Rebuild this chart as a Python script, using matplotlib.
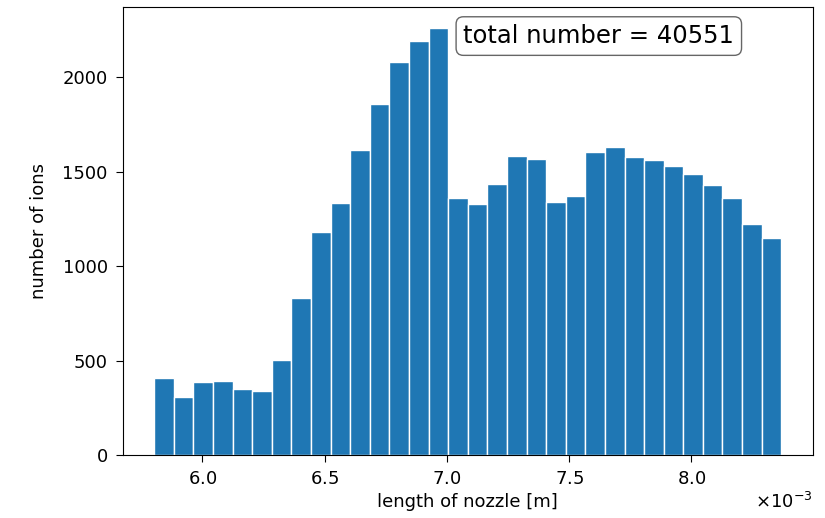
import numpy as np
import matplotlib
matplotlib.use('Agg')
import matplotlib.pyplot as plt

# bin edges of the histogram (meters)
x_start = 5.804e-3
x_end = 8.367e-3
# counts per bin
counts = [408, 307, 387, 392, 350, 337, 502, 829, 1178, 1336,
          1615, 1857, 2078, 2190, 2258, 1362, 1327, 1435, 1583, 1566,
          1341, 1370, 1601, 1632, 1577, 1560, 1527, 1488, 1430, 1360,
          1225, 1150]
total_label = 'total number = 40551'

edges = np.linspace(x_start, x_end, len(counts) + 1)
widths = np.diff(edges)

plt.rcParams['font.size'] = 13
plt.rcParams['xtick.major.size'] = 5
plt.rcParams['ytick.major.size'] = 5
plt.rcParams['xtick.major.pad'] = 5.5
plt.rcParams['ytick.major.pad'] = 6
fig = plt.figure(figsize=(8.25, 5.18), dpi=100)
ax = fig.add_axes([0.149, 0.1216, 0.836, 0.865])

ax.bar(edges[:-1], counts, width=widths, align='edge',
       color='#1f77b4', edgecolor='white', linewidth=1)

ax.ticklabel_format(axis='x', style='sci', scilimits=(-3, -3), useMathText=True)
ax.set_xlabel('length of nozzle [m]', labelpad=4)
ax.set_ylabel('number of ions', labelpad=10)

ax.text(0.69, 0.935, total_label, transform=ax.transAxes,
        ha='center', va='center', fontsize=17.5,
        bbox=dict(boxstyle='round', facecolor='white', alpha=0.6))

fig.savefig('out.png', dpi=100)
